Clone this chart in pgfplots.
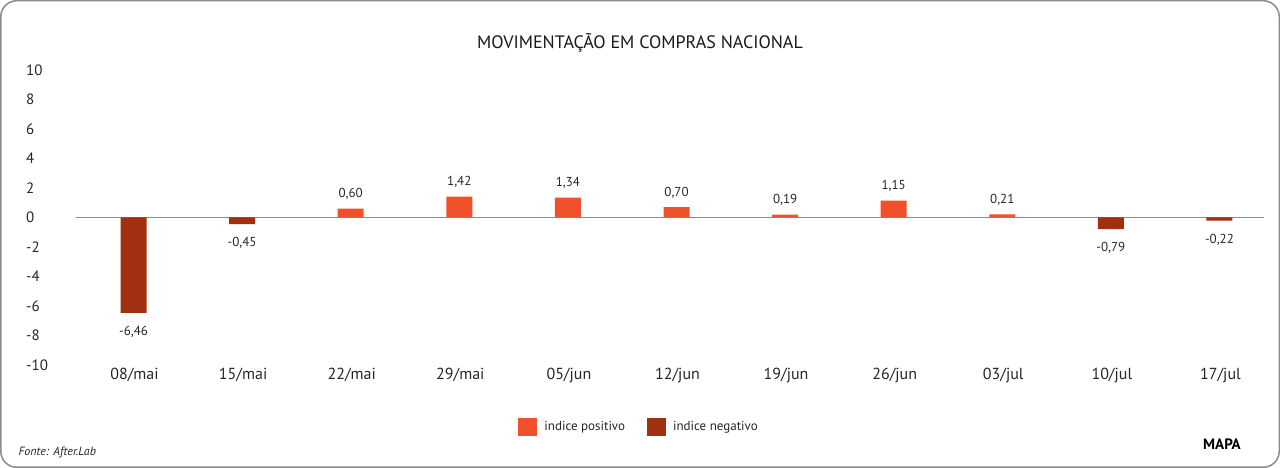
\documentclass[border=0pt]{standalone}
\usepackage{fontspec}
\setmainfont{PT Sans}
\usepackage{pgfplots}
\pgfplotsset{compat=1.18}
\definecolor{pos}{HTML}{F0502A}
\definecolor{neg}{HTML}{A0300F}
\definecolor{framec}{HTML}{8C8C8C}
\begin{document}
\begin{tikzpicture}
\draw[framec, line width=1.5pt, rounded corners=16pt] (0.75pt,0.75pt) rectangle (1279.25pt,467.25pt);
\begin{axis}[
 at={(76pt,103pt)}, anchor=south west,
 scale only axis, width=1188pt, height=295pt,
 xmin=-0.53, xmax=10.41, ymin=-10, ymax=10,
 axis line style={draw=none},
 major tick length=0pt,
 xtick={0,...,10},
 xticklabels={08/mai,15/mai,22/mai,29/mai,05/jun,12/jun,19/jun,26/jun,03/jul,10/jul,17/jul},
 ytick={-10,-8,...,10},
 yticklabels={-10,-8,-6,-4,-2,0,2,4,6,8,10},
 xticklabel style={font=\fontsize{16}{16}\selectfont, inner sep=0pt, anchor=north, yshift=-3pt, xshift=1pt, text=black!85},
 yticklabel style={font=\fontsize{15}{15}\selectfont, inner sep=0pt, anchor=west, xshift=-50pt, text=black!85},
 extra y ticks={0}, extra y tick labels={},
 extra y tick style={grid=major, major grid style={framec, line width=1.5pt}},
 ybar, bar width=26pt,
 point meta=explicit symbolic,
 legend columns=2,
 legend image code/.code={\fill[#1] (0pt,-9pt) rectangle (19pt,9pt);},
 legend style={at={(axis description cs:0.474,-0.21)}, anchor=center, draw=none, fill=none,
   font=\fontsize{13}{13}\selectfont, text=black!85,
   /tikz/every odd column/.append style={column sep=5pt},
   /tikz/every even column/.append style={column sep=20pt}},
]
\addplot[fill=pos, draw=none, bar shift=0pt, nodes near coords,
  every node near coord/.append style={inner sep=0pt, yshift=9pt, font=\fontsize{13}{13}\selectfont, text=black!85}]
  coordinates {(2,0.60)[0,60] (3,1.42)[1,42] (4,1.34)[1,34] (5,0.70)[0,70] (6,0.19)[0,19] (7,1.15)[1,15] (8,0.21)[0,21]};
\addlegendentry{indice positivo}
\addplot[fill=neg, draw=none, bar shift=0pt, nodes near coords,
  nodes near coords align={center},
  every node near coord/.append style={inner sep=0pt, anchor=center, yshift=-19pt, font=\fontsize{13}{13}\selectfont, text=black!85}]
  coordinates {(0,-6.46)[-6,46] (1,-0.45)[-0,45] (9,-0.79)[-0,79] (10,-0.22)[-0,22]};
\addlegendentry{indice negativo}
\end{axis}
\node[font=\fontsize{18}{18}\selectfont, text=black!90] at (640pt,425pt) {MOVIMENTAÇÃO EM COMPRAS NACIONAL};
\node[anchor=west, font=\itshape\fontsize{12}{12}\selectfont, text=black!85] at (15pt,16pt) {Fonte: After.Lab};
\node[font=\bfseries\fontsize{15}{15}\selectfont] at (1222pt,24pt) {MAPA};
\end{tikzpicture}
\end{document}
